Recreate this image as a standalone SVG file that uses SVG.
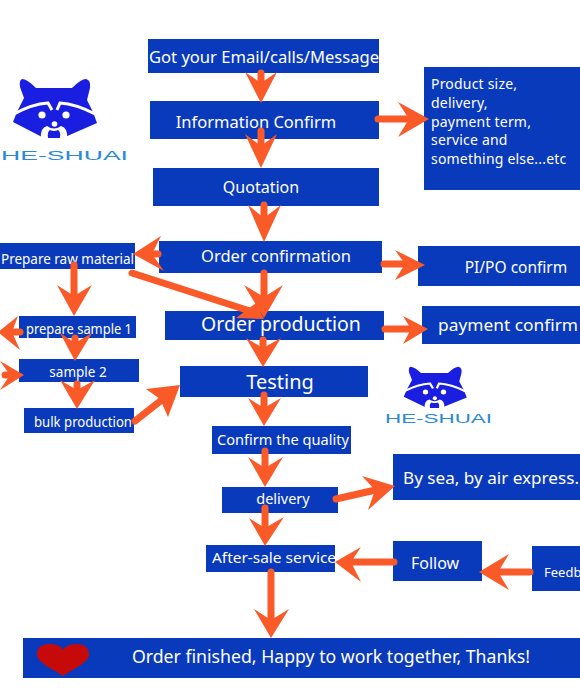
<svg xmlns="http://www.w3.org/2000/svg" width="580" height="700" viewBox="0 0 580 700">
<style>
.b{fill:#0a3abc}
.t{fill:#fff;font-family:"Noto Sans","Open Sans",sans-serif;text-anchor:middle}
.l{fill:#fff;font-family:"Noto Sans","Open Sans",sans-serif}
.s{stroke:#f95a28;stroke-width:7;stroke-linecap:round;fill:none}
.h{fill:#f95a28}
.lg{fill:#2b8ad6;font-family:"Liberation Sans",sans-serif}
.w{fill:#fff}
.k{fill:#1a1ee0}
.br{fill:none;stroke:#fff;stroke-width:3}
</style>
<defs>
<g id="raccoon">
<path class="k" d="M22,79Q27,79 36,88L72,88Q81,79 86,79Q91,80 90,88L87,100L93,112L97,123L65,137L42,137L13,122L17,112L24,98L20,87Q19,80 22,79Z"/>
<path class="br" d="M14,114Q32,104 48,103L52,110"/>
<path class="br" d="M95,114Q76,104 60,103L57,110"/>
<circle class="w" cx="42" cy="115" r="3.600"/>
<circle class="w" cx="66" cy="115" r="3.600"/>
<circle class="w" cx="54.500" cy="124" r="2.800"/>
<path class="w" d="M41,138Q40,128 47,126Q54,131 61,126Q68,128 67,138Z"/>
<path class="k" d="M48,138Q47,132 50,130Q54,132 58,130Q61,132 60,138Z"/>
</g>
</defs>
<rect width="580" height="700" fill="#fff"/>
<g id="logo-1">
<use href="#raccoon"/>
<text class="lg" x="1" y="160" font-size="13" textLength="127" lengthAdjust="spacingAndGlyphs">HE-SHUAI</text>
</g>
<g id="logo-2">
<use href="#raccoon" transform="translate(394,311.400) scale(.75,.7)"/>
<text class="lg" x="385" y="423" font-size="12" textLength="107" lengthAdjust="spacingAndGlyphs">HE-SHUAI</text>
</g>
<g id="n-email"><rect class="b" x="148" y="39" width="231" height="34"/><text class="t" x="264" y="63" font-size="16.500" textLength="230" lengthAdjust="spacingAndGlyphs">Got your Email/calls/Message</text></g>
<g id="n-info"><rect class="b" x="150" y="101" width="229" height="38"/><text class="t" x="256" y="128" font-size="16.500">Information Confirm</text></g>
<g id="n-quote"><rect class="b" x="153" y="168" width="226" height="38"/><text class="t" x="261" y="193" font-size="16">Quotation</text></g>
<g id="n-confirm"><rect class="b" x="159" y="241" width="223" height="32"/><text class="t" x="276" y="262" font-size="16.500">Order confirmation</text></g>
<g id="n-production"><rect class="b" x="165" y="311" width="219" height="29"/><text class="t" x="281" y="331" font-size="19.500">Order production</text></g>
<g id="n-testing"><rect class="b" x="180" y="366" width="188" height="31"/><text class="t" x="280" y="389" font-size="20">Testing</text></g>
<g id="n-quality"><rect class="b" x="212" y="426" width="139" height="28"/><text class="t" x="283" y="445" font-size="14.500" textLength="132" lengthAdjust="spacingAndGlyphs">Confirm the quality</text></g>
<g id="n-delivery"><rect class="b" x="222" y="487" width="116" height="26"/><text class="t" x="283" y="504" font-size="14.500">delivery</text></g>
<g id="n-aftersale"><rect class="b" x="206" y="545" width="129" height="27"/><text class="t" x="274" y="563" font-size="15" textLength="124" lengthAdjust="spacingAndGlyphs">After-sale service</text></g>
<g id="n-finished"><rect class="b" x="23" y="638" width="557" height="40"/>
<path fill="#c60a0a" d="M63,676C52,668 37,663 37,654C37,646 44,644 50,644C56,644 61,646 63,650C65,646 71,644 77,644C84,644 89,648 89,654C89,663 74,668 63,676Z"/>
<text class="l" x="132" y="663" font-size="17.500" textLength="398" lengthAdjust="spacingAndGlyphs">Order finished, Happy to work together, Thanks!</text></g>
<g id="n-product"><rect class="b" x="424" y="67" width="156" height="123"/>
<text class="l" font-size="14" letter-spacing=".2"><tspan x="431" y="89">Product size,</tspan><tspan x="431" y="108">delivery,</tspan><tspan x="431" y="127">payment term,</tspan><tspan x="431" y="145">service and</tspan><tspan x="431" y="164">something else...etc</tspan></text></g>
<g id="n-pi"><rect class="b" x="418" y="246" width="162" height="40"/><text class="t" x="516" y="273" font-size="15.500">PI/PO confirm</text></g>
<g id="n-payment"><rect class="b" x="422" y="306" width="158" height="38"/><text class="t" x="508" y="331" font-size="16.500" textLength="140" lengthAdjust="spacingAndGlyphs">payment confirm</text></g>
<g id="n-sea"><rect class="b" x="393" y="454" width="187" height="46"/><text class="l" x="403" y="484" font-size="16.500" textLength="176" lengthAdjust="spacingAndGlyphs">By sea, by air express.</text></g>
<g id="n-follow"><rect class="b" x="393" y="541" width="89" height="40"/><text class="t" x="435" y="569" font-size="16">Follow</text></g>
<g id="n-feedback"><rect class="b" x="532" y="546" width="48" height="45"/><text class="l" x="544" y="577" font-size="13">Feedb</text></g>
<g id="n-raw"><rect class="b" x="0" y="243" width="135" height="26"/><text class="l" x="1" y="264" font-size="14" textLength="133" lengthAdjust="spacingAndGlyphs">Prepare raw material</text></g>
<g id="n-sample1"><rect class="b" x="19" y="316" width="117" height="22"/><text class="t" x="79" y="334" font-size="13.500" textLength="106" lengthAdjust="spacingAndGlyphs">prepare sample 1</text></g>
<g id="n-sample2"><rect class="b" x="19" y="359" width="120" height="23"/><text class="t" x="78" y="377" font-size="13.500">sample 2</text></g>
<g id="n-bulk"><rect class="b" x="24" y="408" width="110" height="25"/><text class="t" x="83" y="427" font-size="14" textLength="98" lengthAdjust="spacingAndGlyphs">bulk production</text></g>
<g id="connectors">
<path class="s" d="M261,73V92M261,131V155M264,205V230M264,273V300M158,254H145M132,273L250,311M74,265V300M20,332H5M75,338V352M5,375H12M77,384V398M135,421L168,395M263,340V356M264,395V415M265,451V475M265,508V535M271,572V625M378,119H414M384,264H410M385,329H414M336,499L380,489M394,562H350M530,572H495"/>
<polygon class="h" points="261,103 245,72 261,83 277,72"/>
<polygon class="h" points="261,168 245,134 261,146 277,134"/>
<polygon class="h" points="264,242 248,205 264,218 281,205"/>
<polygon class="h" points="264,318 244,285 264,297 283,285"/>
<polygon class="h" points="133,254 161,236 152,254 164,271"/>
<polygon class="h" points="264,319 236,318 256,303"/>
<polygon class="h" points="74,316 57,285 74,296 92,285"/>
<polygon class="h" points="-2,332 18,316 12,332 20,350"/>
<polygon class="h" points="75,361 60,333 75,343 92,333"/>
<polygon class="h" points="24,375 0,361 10,375 0,390"/>
<polygon class="h" points="77,409 60,380 77,390 95,380"/>
<polygon class="h" points="180,385 146,389 160,399 168,417"/>
<polygon class="h" points="263,367 246,338 263,348 281,338"/>
<polygon class="h" points="264,426 248,398 264,408 281,398"/>
<polygon class="h" points="265,487 248,457 265,468 283,457"/>
<polygon class="h" points="265,546 249,518 265,528 284,517"/>
<polygon class="h" points="271,638 254,609 271,620 289,609"/>
<polygon class="h" points="429,119 398,102 409,119 398,137"/>
<polygon class="h" points="425,265 395,250 405,264 395,280"/>
<polygon class="h" points="428,329 403,316 411,329 403,344"/>
<polygon class="h" points="395,486 362,476 375,490 368,510"/>
<polygon class="h" points="335,562 361,547 351,562 361,582"/>
<polygon class="h" points="479,572 509,554 498,572 509,590"/>
</g>
</svg>
